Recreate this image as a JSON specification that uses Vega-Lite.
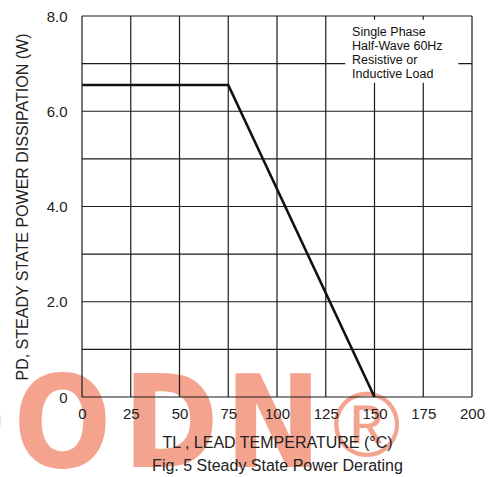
{
  "$schema": "https://vega.github.io/schema/vega-lite/v6.json",
  "autosize": {"type": "none"},
  "padding": {"left": 82, "top": 16, "right": 16, "bottom": 80},
  "width": 390,
  "height": 381,
  "background": "white",
  "config": {"view": {"stroke": null}, "font": "Liberation Sans"},
  "datasets": {
    "curve": [{"t": 0, "p": 6.55}, {"t": 75, "p": 6.55}, {"t": 150, "p": 0}],
    "vgrid": [{"t": 0}, {"t": 25}, {"t": 50}, {"t": 75}, {"t": 100}, {"t": 125}, {"t": 150}, {"t": 175}, {"t": 200}],
    "hgrid": [{"p": 0}, {"p": 1}, {"p": 2}, {"p": 3}, {"p": 4}, {"p": 5}, {"p": 6}, {"p": 7}, {"p": 8}],
    "notebox": [{"t": 135, "t2": 193, "p": 6.6, "p2": 7.92}],
    "note": [{"t": 138.5, "p": 7.8, "label": ["Single Phase", "Half-Wave 60Hz", "Resistive or", "Inductive Load"]}],
    "mark": [
      {"t": -64, "p": -1.47, "label": "O"},
      {"t": -10, "p": -1.47, "label": "O"},
      {"t": 45.5, "p": -1.47, "label": "D"},
      {"t": 98, "p": -1.47, "label": "N"}
    ],
    "reg": [{"t": 146, "p": -0.66, "label": "®"}]
  },
  "layer": [
    {
      "data": {"name": "mark"},
      "mark": {"type": "text", "font": "DejaVu Sans Condensed", "fontWeight": "bold", "fontSize": 128, "align": "center", "baseline": "alphabetic", "color": "#f4a48e"},
      "encoding": {
        "x": {
          "field": "t", "type": "quantitative", "scale": {"domain": [0, 200]},
          "axis": {
            "values": [0, 25, 50, 75, 100, 125, 150, 175, 200],
            "grid": false, "domain": false, "ticks": false,
            "labelFontSize": 15, "labelColor": "#222", "labelPadding": 9, "labelFlush": false,
            "title": ["TL , LEAD TEMPERATURE (°C)", "Fig. 5  Steady State Power Derating"],
            "titleFontSize": 16, "titleFontWeight": "normal", "titleColor": "#222", "titlePadding": 13, "titleLineHeight": 23,
            "zindex": 1
          }
        },
        "y": {
          "field": "p", "type": "quantitative", "scale": {"domain": [0, 8]},
          "axis": {
            "values": [0, 2, 4, 6, 8],
            "labelExpr": "datum.value == 0 ? '0' : format(datum.value, '.1f')",
            "grid": false, "domain": false, "ticks": false,
            "labelFontSize": 15, "labelColor": "#222", "labelPadding": 15, "labelFlush": false,
            "title": "PD, STEADY STATE POWER DISSIPATION (W)",
            "titleFontSize": 16, "titleFontWeight": "normal", "titleColor": "#222", "titlePadding": 16,
            "zindex": 1
          }
        },
        "text": {"field": "label"}
      }
    },
    {
      "data": {"name": "reg"},
      "mark": {"type": "text", "font": "Liberation Sans", "fontSize": 92, "align": "center", "baseline": "middle", "color": "#f4a48e"},
      "encoding": {
        "x": {"field": "t", "type": "quantitative"},
        "y": {"field": "p", "type": "quantitative"},
        "text": {"field": "label"}
      }
    },
    {
      "data": {"name": "vgrid"},
      "mark": {"type": "rule", "color": "#1a1a1a", "strokeWidth": 1.2},
      "encoding": {"x": {"field": "t", "type": "quantitative"}}
    },
    {
      "data": {"name": "hgrid"},
      "mark": {"type": "rule", "color": "#1a1a1a", "strokeWidth": 1.2},
      "encoding": {"y": {"field": "p", "type": "quantitative"}}
    },
    {
      "data": {"name": "notebox"},
      "mark": {"type": "rect", "color": "white"},
      "encoding": {
        "x": {"field": "t", "type": "quantitative"},
        "x2": {"field": "t2"},
        "y": {"field": "p", "type": "quantitative"},
        "y2": {"field": "p2"}
      }
    },
    {
      "data": {"name": "note"},
      "mark": {"type": "text", "align": "left", "baseline": "top", "fontSize": 12.5, "lineHeight": 14, "color": "#111"},
      "encoding": {
        "x": {"field": "t", "type": "quantitative"},
        "y": {"field": "p", "type": "quantitative"},
        "text": {"field": "label"}
      }
    },
    {
      "data": {"name": "curve"},
      "mark": {"type": "line", "color": "#111", "strokeWidth": 2.6},
      "encoding": {
        "x": {"field": "t", "type": "quantitative"},
        "y": {"field": "p", "type": "quantitative"}
      }
    }
  ]
}
